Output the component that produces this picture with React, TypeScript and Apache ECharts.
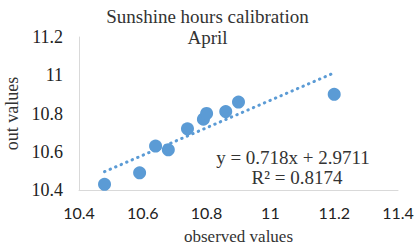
import React, { useEffect, useRef } from "react";
import * as echarts from "echarts";

const observed = [10.48, 10.59, 10.64, 10.68, 10.74, 10.79, 10.8, 10.86, 10.9, 11.2];
const outValues = [10.43, 10.49, 10.63, 10.61, 10.72, 10.77, 10.8, 10.81, 10.86, 10.9];
const trendSlope = 0.718;
const trendIntercept = 2.9711;
const trendRange = [10.48, 11.2];
const equationText = "y = 0.718x + 2.9711";
const r2Text = "R² = 0.8174";
const titleText = "Sunshine hours calibration\nApril";

const BLUE = "#5B9BD5";
const SERIF = "'Liberation Serif', 'Times New Roman', serif";
const SANS = "Lato, 'Noto Sans', sans-serif";

export default function App() {
  const ref = useRef<HTMLDivElement>(null);
  useEffect(() => {
    if (!ref.current) return;
    const chart = echarts.init(ref.current, undefined, { renderer: "svg" });
    const points = observed.map((x, i) => [x, outValues[i]]);
    const trend = trendRange.map((x) => [x, trendSlope * x + trendIntercept]);
    chart.setOption({
      animation: false,
      backgroundColor: "#fff",
      title: {
        text: titleText,
        left: "center",
        top: 1,
        textStyle: {
          fontFamily: SERIF,
          fontSize: 19,
          fontWeight: "normal",
          color: "#333",
          lineHeight: 21,
        },
      },
      grid: { left: 79, right: 17, top: 37, bottom: 55, outerBoundsMode: "none", containLabel: false },
      xAxis: {
        type: "value",
        min: 10.4,
        max: 11.4,
        interval: 0.2,
        name: "observed values",
        nameLocation: "middle",
        nameGap: 38,
        nameTextStyle: { fontFamily: SERIF, fontSize: 17, color: "#333" },
        axisLine: { show: true, lineStyle: { color: "#D9D9D9", width: 1 } },
        axisTick: { show: false },
        splitLine: { show: false },
        axisLabel: { fontFamily: SANS, fontSize: 16, color: "#222", margin: 14 },
      },
      yAxis: {
        type: "value",
        min: 10.4,
        max: 11.2,
        interval: 0.2,
        name: "out values",
        nameLocation: "middle",
        nameRotate: 90,
        nameGap: 58,
        nameTextStyle: { fontFamily: SERIF, fontSize: 18, color: "#333" },
        axisLine: { show: true, lineStyle: { color: "#D9D9D9", width: 1 } },
        axisTick: { show: false },
        splitLine: { show: false },
        axisLabel: { fontFamily: SERIF, fontSize: 18, color: "#222", margin: 16 },
      },
      series: [
        {
          type: "line",
          data: trend,
          symbol: "none",
          lineStyle: { color: BLUE, width: 3, type: [0.5, 5.5], cap: "round" },
          z: 1,
        },
        {
          type: "scatter",
          data: points,
          symbol: "circle",
          symbolSize: 13,
          itemStyle: { color: BLUE, opacity: 1 },
          z: 2,
        },
      ],
      graphic: [
        {
          type: "text",
          x: 293,
          y: 157,
          style: {
            text: equationText,
            font: `19px ${SERIF}`,
            fill: "#333",
            align: "center",
            verticalAlign: "middle",
          },
        },
        {
          type: "text",
          x: 297,
          y: 177,
          style: {
            text: r2Text,
            font: `19px ${SERIF}`,
            fill: "#333",
            align: "center",
            verticalAlign: "middle",
          },
        },
      ],
    });
    return () => chart.dispose();
  }, []);
  return (
    <div
      ref={ref}
      style={{ position: "fixed", left: 0, top: 0, width: 415, height: 245 }}
    />
  );
}
